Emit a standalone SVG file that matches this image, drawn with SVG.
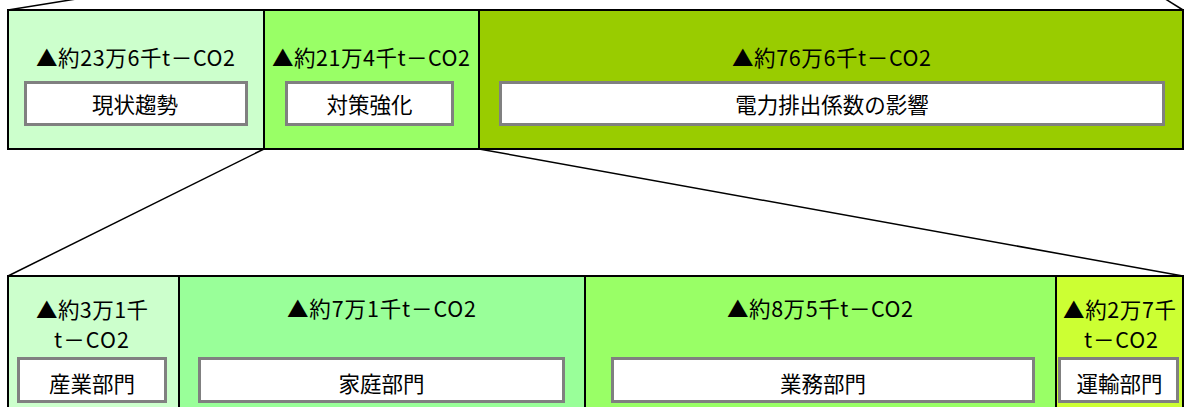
<svg xmlns="http://www.w3.org/2000/svg" width="1187" height="407" viewBox="0 0 1187 407">
<style>
.cell{stroke:#000;stroke-width:2}
.box{fill:#fff;stroke:#808080;stroke-width:3}
.t{font-family:"Noto Sans CJK JP","Liberation Sans",sans-serif;font-size:21.5px;fill:#000;text-anchor:middle;dominant-baseline:central}
.ln{stroke:#000;stroke-width:1.5;fill:none}
</style>
<rect width="1187" height="407" fill="#fff"/>
<g id="connectors">
<line class="ln" x1="8" y1="10" x2="132" y2="-10"/>
<line class="ln" x1="1183" y1="10" x2="1151" y2="-10"/>
<line class="ln" x1="264" y1="149" x2="8" y2="276"/>
<line class="ln" x1="479" y1="149" x2="1183" y2="276"/>
</g>
<g id="top-genjo">
<rect class="cell" x="8" y="10" width="256" height="139" fill="#CCFFCC"/>
<text class="t" x="135.5" y="56" textLength="199" lengthAdjust="spacing">▲約23万6千t－CO2</text>
<rect class="box" x="25.5" y="82.5" width="221" height="42"/>
<text class="t" x="135" y="103">現状趨勢</text>
</g>
<g id="top-taisaku">
<rect class="cell" x="264" y="10" width="215" height="139" fill="#99FF66"/>
<text class="t" x="371" y="56" textLength="198" lengthAdjust="spacing">▲約21万4千t－CO2</text>
<rect class="box" x="286.5" y="82.5" width="166" height="42"/>
<text class="t" x="369.5" y="103">対策強化</text>
</g>
<g id="top-denryoku">
<rect class="cell" x="479" y="10" width="704" height="139" fill="#99CC00"/>
<text class="t" x="831.5" y="56" textLength="199" lengthAdjust="spacing">▲約76万6千t－CO2</text>
<rect class="box" x="500.5" y="82.5" width="663" height="42"/>
<text class="t" x="832" y="103">電力排出係数の影響</text>
</g>
<g id="bottom-sangyo">
<rect class="cell" x="8" y="276" width="171" height="150" fill="#CCFFCC"/>
<text class="t" x="92" y="308" textLength="112" lengthAdjust="spacing">▲約3万1千</text>
<text class="t" x="91.5" y="338" textLength="75" lengthAdjust="spacing">t－CO2</text>
<rect class="box" x="18.5" y="358.5" width="147" height="43"/>
<text class="t" x="92" y="382">産業部門</text>
</g>
<g id="bottom-katei">
<rect class="cell" x="179" y="276" width="406" height="150" fill="#99FF99"/>
<text class="t" x="381.5" y="307" textLength="189" lengthAdjust="spacing">▲約7万1千t－CO2</text>
<rect class="box" x="199.5" y="358.5" width="364" height="43"/>
<text class="t" x="381.5" y="382">家庭部門</text>
</g>
<g id="bottom-gyomu">
<rect class="cell" x="585" y="276" width="471" height="150" fill="#99FF66"/>
<text class="t" x="820" y="307" textLength="186" lengthAdjust="spacing">▲約8万5千t－CO2</text>
<rect class="box" x="612.5" y="358.5" width="421" height="43"/>
<text class="t" x="823" y="382">業務部門</text>
</g>
<g id="bottom-unyu">
<rect class="cell" x="1056" y="276" width="127" height="150" fill="#CCFF33"/>
<text class="t" x="1119.5" y="308" textLength="113" lengthAdjust="spacing">▲約2万7千</text>
<text class="t" x="1121" y="338" textLength="74" lengthAdjust="spacing">t－CO2</text>
<rect class="box" x="1059.5" y="358.5" width="118" height="43"/>
<text class="t" x="1119.5" y="382">運輸部門</text>
</g>
</svg>
